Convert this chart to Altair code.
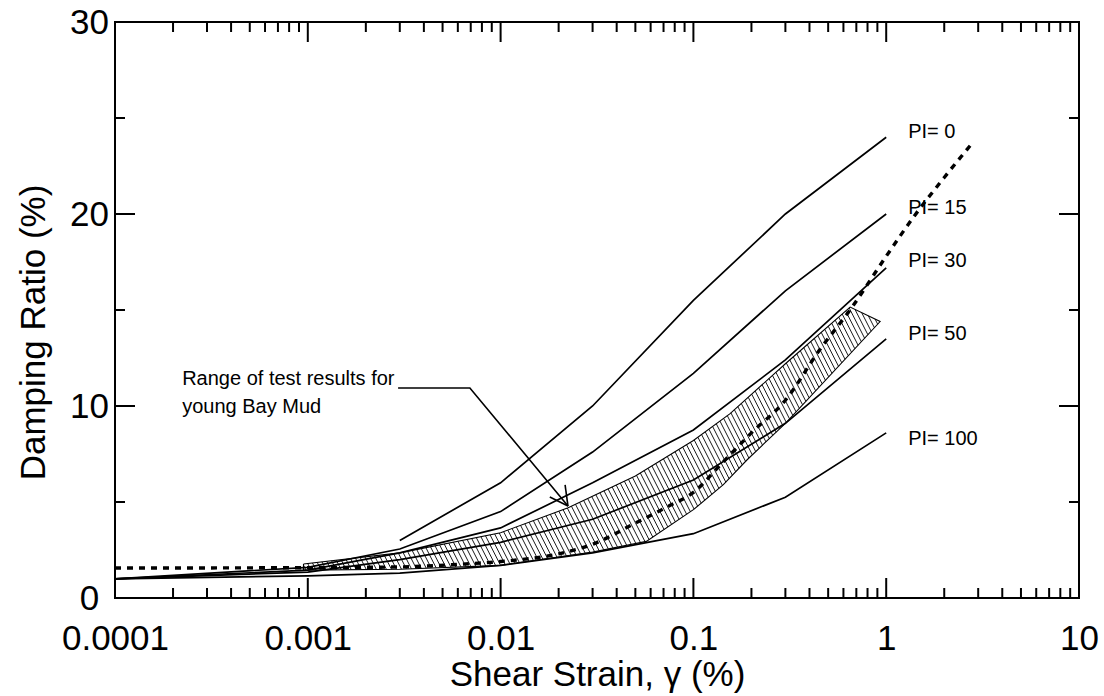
import math
import altair as alt
import pandas as pd

# ---------------- data ----------------
strain_levels = [0.0001, 0.001, 0.003, 0.01, 0.03, 0.1, 0.3, 1.0]
pi0_strain = [0.003, 0.01, 0.03, 0.1, 0.3, 1.0]
pi0_damping = [3.0, 6.0, 10.0, 15.5, 20.0, 24.0]
pi15_damping = [1.0, 1.6, 2.55, 4.5, 7.6, 11.7, 16.0, 20.0]
pi30_damping = [1.0, 1.45, 2.35, 3.65, 6.0, 8.75, 12.4, 17.2]
pi50_damping = [1.0, 1.35, 2.0, 2.9, 4.1, 6.15, 9.1, 13.5]
pi100_damping = [1.0, 1.15, 1.3, 1.7, 2.35, 3.35, 5.25, 8.6]

bay_mud_strain = [0.0001, 0.001, 0.003, 0.006, 0.01, 0.02, 0.03, 0.05, 0.075, 0.1,
                  0.14, 0.2, 0.3, 0.45, 0.66, 1.0, 1.4, 2.0, 2.8]
bay_mud_damping = [1.56, 1.58, 1.62, 1.75, 1.9, 2.3, 2.8, 3.9, 4.8, 5.5,
                   7.0, 8.6, 10.3, 12.9, 15.1, 17.8, 19.9, 21.9, 23.7]

band_upper_strain = [0.00095, 0.003, 0.01, 0.0224, 0.05, 0.1, 0.155, 0.3, 0.65, 0.93]
band_upper_damping = [1.77, 2.35, 3.4, 4.7, 6.35, 8.2, 9.6, 12.2, 15.15, 14.4]
band_lower_strain = [0.00095, 0.003, 0.01, 0.03, 0.057, 0.1, 0.143, 0.19, 0.3]
band_lower_damping = [1.45, 1.5, 1.7, 2.4, 2.95, 4.6, 5.9, 7.2, 9.1]

pi_labels = ["PI= 0", "PI= 15", "PI= 30", "PI= 50", "PI= 100"]
pi_label_strain = [1.3, 1.3, 1.3, 1.3, 1.3]
pi_label_damping = [24.27, 20.3, 17.55, 13.75, 8.28]

note_lines = ["Range of test results for", "young Bay Mud"]
note_strain = [0.000223, 0.000223]
note_damping = [11.41, 9.95]

leader_strain = [0.00294, 0.00693, 0.02236]
leader_damping = [10.94, 10.94, 4.79]
arrow_tip = (0.02236, 4.79)
arrow_wing_strain = [0.0216, 0.018]
arrow_wing_damping = [5.89, 5.26]

x_ticks = [0.0001, 0.001, 0.01, 0.1, 1, 10]
y_ticks = [0, 10, 20, 30]
y_minor = [5, 15, 25]
y_major_inner = [10, 20]

# ---------------- layout ----------------
W, H = 964, 576
FONT = "Liberation Sans, Arial, Helvetica, sans-serif"
AXFS = 35
XS = alt.Scale(type="log", domain=[0.0001, 10], nice=False)
YS = alt.Scale(domain=[0, 30], nice=False, zero=False)

XAX = alt.Axis(values=x_ticks, format="~g", ticks=False, domain=False, grid=False,
               tickSize=0, labelPadding=23, labelFontSize=AXFS, labelFont=FONT,
               labelColor="black", labelFlush=False, labelOverlap=False,
               title="Shear Strain, \u03b3 (%)", titleFont=FONT, titleFontSize=AXFS,
               titleFontWeight="normal", titleColor="black",
               titleX=W / 2, titleY=87, titleBaseline="alphabetic", titleAlign="center")
YAX = alt.Axis(values=y_ticks, ticks=False, domain=False, grid=False, tickSize=0,
               labelPadding=26, labelAlign="center", labelFontSize=AXFS, labelFont=FONT,
               labelColor="black", labelFlush=False, labelOverlap=False,
               title="Damping Ratio (%)", titleFont=FONT, titleFontSize=AXFS,
               titleFontWeight="normal", titleColor="black", titleAngle=-90,
               titleX=-82, titleY=310, titleBaseline="middle", titleAlign="center")


def X(field):
    return alt.X(field, type="quantitative", scale=XS, axis=XAX)


def Y(field):
    return alt.Y(field, type="quantitative", scale=YS, axis=YAX)


# ---------------- frames ----------------
curves = []
curves += [{"strain": s, "damping": d, "series": "PI=0"} for s, d in zip(pi0_strain, pi0_damping)]
for name, vals in [("PI=15", pi15_damping), ("PI=30", pi30_damping),
                   ("PI=50", pi50_damping), ("PI=100", pi100_damping)]:
    curves += [{"strain": s, "damping": d, "series": name} for s, d in zip(strain_levels, vals)]
curves_df = pd.DataFrame(curves)

mud_df = pd.DataFrame({"strain": bay_mud_strain, "damping": bay_mud_damping})

band_x = band_upper_strain + band_lower_strain[::-1]
band_y = band_upper_damping + band_lower_damping[::-1]
outline_df = pd.DataFrame({"strain": band_x + [band_x[0]],
                           "damping": band_y + [band_y[0]],
                           "i": list(range(len(band_x) + 1))})

# hatch pattern clipped to the band polygon (in screen-proportional space)
PXD = W / 5.0
PXU = H / 30.0
poly = [((math.log10(x) + 4) * PXD, y * PXU) for x, y in zip(band_x, band_y)]
theta = math.radians(63)
nv = (math.sin(theta), math.cos(theta))
dv = (math.cos(theta), -math.sin(theta))
cs = [nv[0] * u + nv[1] * v for u, v in poly]
step = 4.5
c = min(cs) + step / 2
segs = []
while c < max(cs):
    pts = []
    for k in range(len(poly)):
        p1 = poly[k]
        p2 = poly[(k + 1) % len(poly)]
        f1 = nv[0] * p1[0] + nv[1] * p1[1] - c
        f2 = nv[0] * p2[0] + nv[1] * p2[1] - c
        if (f1 < 0) != (f2 < 0):
            t = f1 / (f1 - f2)
            pts.append((p1[0] + t * (p2[0] - p1[0]), p1[1] + t * (p2[1] - p1[1])))
    pts.sort(key=lambda p: p[0] * dv[0] + p[1] * dv[1])
    for j in range(0, len(pts) - 1, 2):
        a, b = pts[j], pts[j + 1]
        segs.append({"strain": 10 ** (a[0] / PXD - 4), "damping": a[1] / PXU,
                     "x2": 10 ** (b[0] / PXD - 4), "y2": b[1] / PXU})
    c += step
hatch_df = pd.DataFrame(segs)

pi_df = pd.DataFrame({"strain": pi_label_strain, "damping": pi_label_damping, "label": pi_labels})
note_df = pd.DataFrame({"strain": note_strain, "damping": note_damping, "label": note_lines})
leader_df = pd.DataFrame({"strain": leader_strain, "damping": leader_damping,
                          "i": list(range(len(leader_strain)))})
wing_df = pd.DataFrame({"strain": [arrow_tip[0]] * 2, "damping": [arrow_tip[1]] * 2,
                        "x2": arrow_wing_strain, "y2": arrow_wing_damping})

minor_x = []
for e in range(-4, 1):
    for m in range(2, 10):
        minor_x.append(m * 10 ** e)
major_x = [0.001, 0.01, 0.1, 1]
minor_x_df = pd.DataFrame({"strain": minor_x})
major_x_df = pd.DataFrame({"strain": major_x})
minor_y_df = pd.DataFrame({"damping": y_minor})
major_y_df = pd.DataFrame({"damping": y_major_inner})

# ---------------- layers ----------------
lines = alt.Chart(curves_df).mark_line(color="black", strokeWidth=1.7).encode(
    x=X("strain"), y=Y("damping"), detail="series:N")

hatch = alt.Chart(hatch_df).mark_rule(color="black", strokeWidth=0.9).encode(
    x=X("strain"), y=Y("damping"), x2="x2:Q", y2="y2:Q")

outline = alt.Chart(outline_df).mark_line(color="black", strokeWidth=1.1).encode(
    x=X("strain"), y=Y("damping"), order="i:Q")

mud = alt.Chart(mud_df).mark_line(color="black", strokeWidth=3.4, strokeDash=[6, 6],
                                  interpolate="monotone").encode(
    x=X("strain"), y=Y("damping"))

leader = alt.Chart(leader_df).mark_line(color="black", strokeWidth=1.6).encode(
    x=X("strain"), y=Y("damping"), order="i:Q")

wings = alt.Chart(wing_df).mark_rule(color="black", strokeWidth=1.6).encode(
    x=X("strain"), y=Y("damping"), x2="x2:Q", y2="y2:Q")

pi_text = alt.Chart(pi_df).mark_text(align="left", baseline="middle", font=FONT,
                                     fontSize=20, color="black").encode(
    x=X("strain"), y=Y("damping"), text="label:N")

note_text = alt.Chart(note_df).mark_text(align="left", baseline="middle", font=FONT,
                                         fontSize=20, color="black").encode(
    x=X("strain"), y=Y("damping"), text="label:N")


def xticks(df, length):
    bottom = alt.Chart(df).mark_rule(color="black", strokeWidth=2).encode(
        x=X("strain"), y=alt.value(H), y2=alt.value(H - length))
    top = alt.Chart(df).mark_rule(color="black", strokeWidth=2).encode(
        x=X("strain"), y=alt.value(0), y2=alt.value(length))
    return [bottom, top]


def yticks(df, length):
    left = alt.Chart(df).mark_rule(color="black", strokeWidth=2).encode(
        y=Y("damping"), x=alt.value(0), x2=alt.value(length))
    right = alt.Chart(df).mark_rule(color="black", strokeWidth=2).encode(
        y=Y("damping"), x=alt.value(W), x2=alt.value(W - length))
    return [left, right]


tick_layers = xticks(minor_x_df, 10) + xticks(major_x_df, 20) + \
    yticks(minor_y_df, 10) + yticks(major_y_df, 20)

chart = alt.layer(lines, hatch, outline, mud, leader, wings, pi_text, note_text,
                  *tick_layers).properties(
    width=W, height=H,
    autosize=alt.AutoSizeParams(type="none"),
    padding={"left": 115, "top": 22, "right": 25, "bottom": 98},
    background="white",
).configure_view(stroke="black", strokeWidth=2)

chart.save("out.html", embed_options={"renderer": "svg", "actions": False})
